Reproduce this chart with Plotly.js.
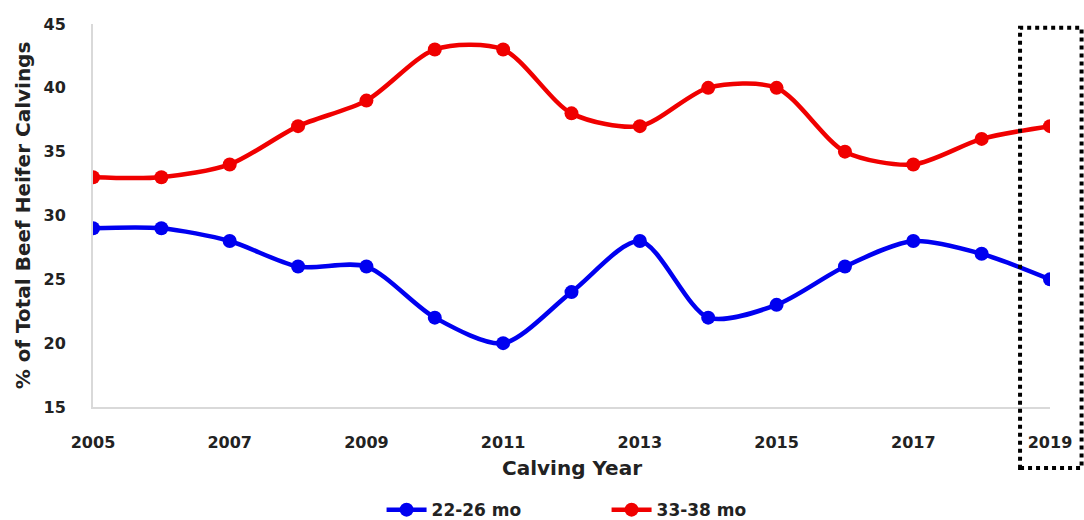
<!DOCTYPE html>
<html><head><meta charset="utf-8">
<script src="https://cdn.plot.ly/plotly-3.0.1.min.js"></script>
<style>html,body{margin:0;padding:0;background:#fff;}#c{width:1084px;height:520px;}</style>
</head><body><div id="c"></div>
<script>
const years = [2005,2006,2007,2008,2009,2010,2011,2012,2013,2014,2015,2016,2017,2018,2019];
const young = [29,29,28,26,26,22,20,24,28,22,23,26,28,27,25];
const old = [33,33,34,37,39,43,43,38,37,40,40,35,34,36,37];
const seriesNames = ["22-26 mo","33-38 mo"];
const xTicks = [2005,2007,2009,2011,2013,2015,2017,2019];
const yTicks = [15,20,25,30,35,40,45];
const xTitle = 'Calving Year';

const F = "DejaVu Sans, Verdana, sans-serif";
const mk = (y, name, color) => ({
  x: years, y: y, name: name, type: 'scatter', mode: 'lines+markers',
  line: {color: color, width: 4.5, shape: 'spline', smoothing: 0.8},
  marker: {color: color, size: 14}
});
const data = [mk(young, seriesNames[0], '#0000f0'), mk(old, seriesNames[1], '#f00000')];
const layout = {
  width: 1084, height: 520,
  margin: {l: 93, r: 34, t: 24, b: 113},
  paper_bgcolor: '#fff', plot_bgcolor: '#fff',
  font: {family: F, color: '#222', weight: 700},
  xaxis: {
    range: [2005, 2019], tickvals: xTicks, ticktext: xTicks.map(String), automargin: false,
    showgrid: false, zeroline: false, showline: true, linecolor: '#d9d9d9', linewidth: 2,
    ticks: '', tickfont: {size: 16, family: F, weight: 700, color: '#222'},
    ticklabelstandoff: 20
  },
  yaxis: {
    range: [15, 45], tickvals: yTicks, showgrid: false, zeroline: false, automargin: false,
    showline: true, linecolor: '#d9d9d9', linewidth: 2, ticks: '',
    tickfont: {size: 16, family: F, weight: 700, color: '#222'},
    ticklabelstandoff: 22,
    title: {text: '% of Total Beef Heifer Calvings', font: {size: 20, family: F, weight: 700, color: '#222'}, standoff: 8}
  },
  showlegend: true,
  legend: {orientation: 'h', x: 0.352, xanchor: 'left', xref: 'container', y: 0.019, yref: 'container', yanchor: 'middle',
    font: {size: 17, family: F, weight: 700, color: '#222'}, itemwidth: 40, tracegroupgap: 0,
    entrywidth: 170, entrywidthmode: 'pixels'},
  annotations: [{text: xTitle, xref: 'paper', yref: 'paper', x: 0.5, y: -0.159, xanchor: 'center', yanchor: 'middle',
    showarrow: false, font: {size: 20, family: F, weight: 700, color: '#222'}}],
  shapes: [{type: 'rect', xref: 'paper', yref: 'paper', x0: 0.9687, x1: 1.033, y0: -0.159, y1: 0.99,
    line: {color: '#000', width: 4, dash: 'dot'}}]
};
Plotly.newPlot('c', data, layout, {displayModeBar: false, staticPlot: true});
</script></body></html>
